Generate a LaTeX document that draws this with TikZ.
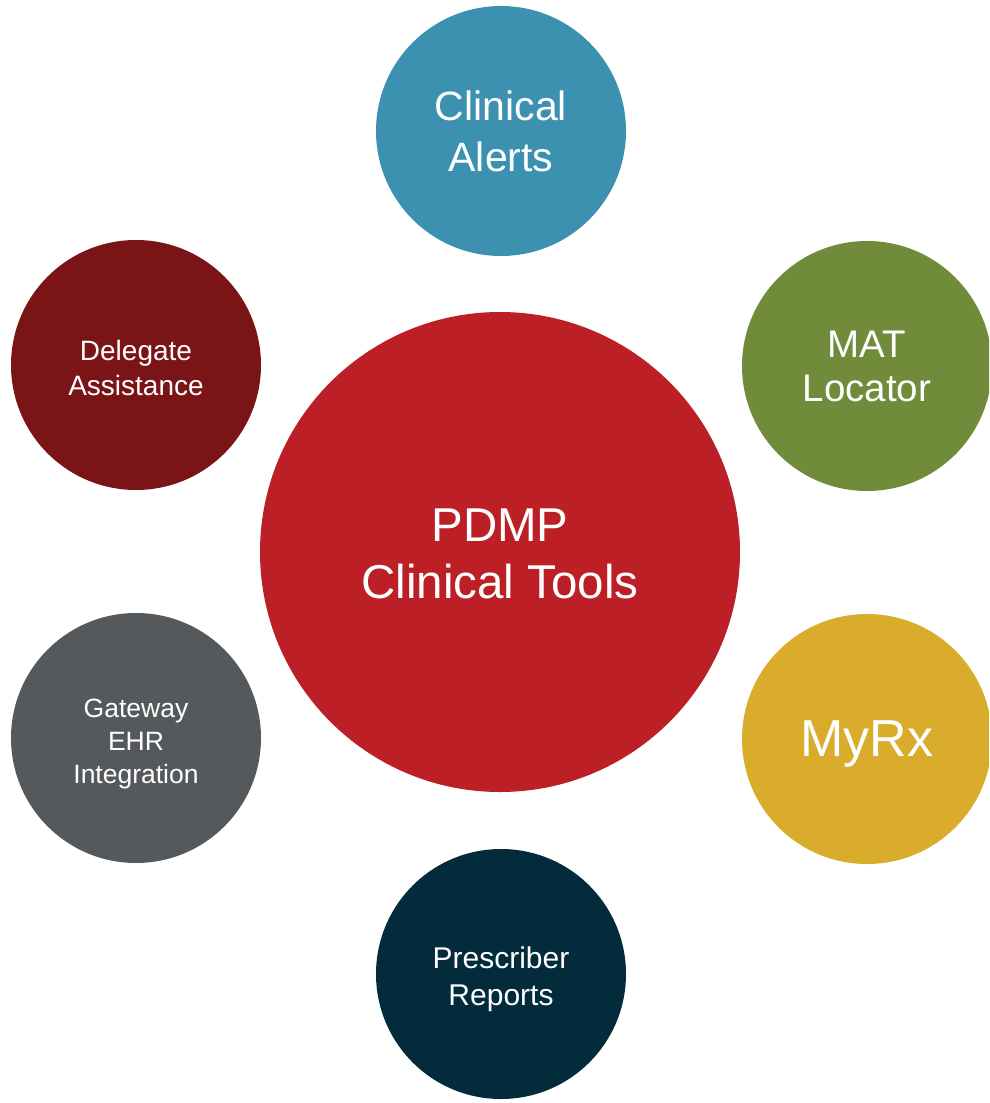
\documentclass[tikz,border=0pt]{standalone}
\usepackage{fontspec}
\setmainfont{Liberation Sans}
\definecolor{hubred}{HTML}{BC2026}
\definecolor{alertteal}{HTML}{3C91B0}
\definecolor{matgreen}{HTML}{708C3A}
\definecolor{myrxgold}{HTML}{DAAC2B}
\definecolor{reportnavy}{HTML}{032B3B}
\definecolor{gatewaygray}{HTML}{56595C}
\definecolor{delegatered}{HTML}{7A1416}
\begin{document}
\begin{tikzpicture}[x=1pt,y=-1pt,
  bubble/.style={circle,inner sep=0pt,minimum size=250pt},
  hub/.style={circle,inner sep=0pt,minimum size=480pt},
  caption/.style={inner sep=0pt,text=white,align=center}]
\useasboundingbox (0,0) rectangle (989,1103);
\clip (0,0) rectangle (989,1103);

% circles
\node[hub,fill=hubred] (pdmp) at (500,552) {};
\node[bubble,fill=alertteal] (alerts) at (501,131) {};
\node[bubble,fill=matgreen] (mat) at (867,366) {};
\node[bubble,fill=myrxgold] (myrx) at (867,739) {};
\node[bubble,fill=reportnavy] (reports) at (501,974) {};
\node[bubble,fill=gatewaygray] (gateway) at (136,738) {};
\node[bubble,fill=delegatered] (delegate) at (136,365) {};

% captions
\node[caption,font=\fontsize{47.5}{57}\selectfont] (pdmp-text)
  at ([yshift=-2pt]pdmp.center) {PDMP\\Clinical Tools};
\node[caption,font=\fontsize{41}{51}\selectfont] (alerts-text)
  at (alerts.center) {Clinical\\Alerts};
\node[caption,font=\fontsize{38.5}{44}\selectfont] (mat-text)
  at (mat.center) {MAT\\Locator};
\node[caption,font=\fontsize{52}{60}\selectfont,text depth=0pt] (myrx-text)
  at (myrx.center) {MyRx};
\node[caption,font=\fontsize{30}{36.5}\selectfont] (reports-text)
  at ([yshift=-5pt]reports.center) {Prescriber\\Reports};
\node[caption,font=\fontsize{26.5}{33}\selectfont] (gateway-text)
  at ([yshift=-6pt]gateway.center) {Gateway\\EHR\\Integration};
\node[caption,font=\fontsize{28}{34.5}\selectfont] (delegate-text)
  at ([yshift=-3pt]delegate.center) {Delegate\\Assistance};
\end{tikzpicture}
\end{document}
